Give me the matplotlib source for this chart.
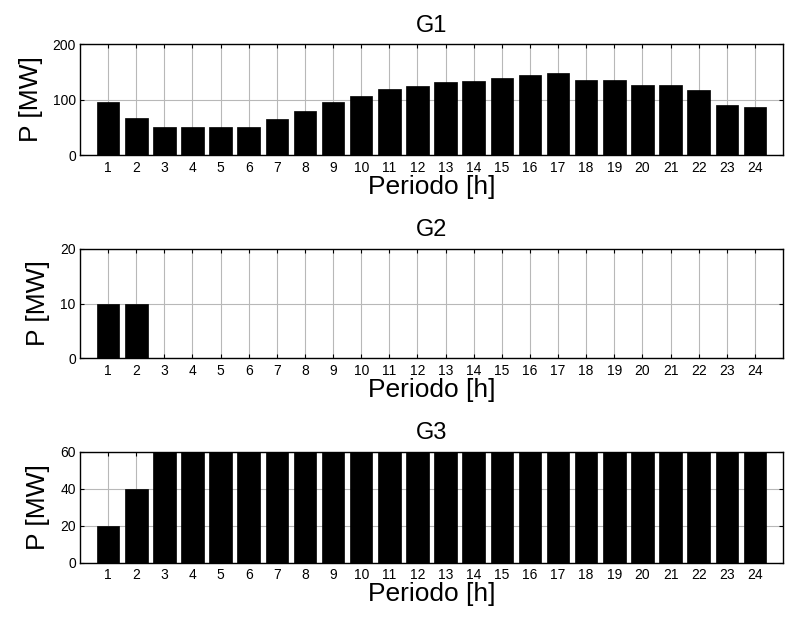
import matplotlib
matplotlib.use("Agg")
import matplotlib.pyplot as plt
import numpy as np

plt.rcParams['font.family'] = ['Liberation Sans', 'DejaVu Sans']

periods = list(range(1, 25))
g1 = [95, 66, 51, 51, 51, 51, 64, 80, 95, 106, 119, 125, 132, 134, 138, 144,
      147, 136, 136, 127, 127, 117, 91, 87]
g2 = [10, 10] + [0] * 22
g3 = [20, 40] + [60] * 22

series = [("G1", g1, 200, [0, 100, 200]),
          ("G2", g2, 20, [0, 10, 20]),
          ("G3", g3, 60, [0, 20, 40, 60])]

fig = plt.figure(figsize=(7.93, 6.21), dpi=100)
# axes boxes in figure fraction [left, bottom, width, height]
boxes = [[0.1009, 0.7504, 0.8865, 0.1787],
         [0.1009, 0.4230, 0.8865, 0.1765],
         [0.1009, 0.0939, 0.8865, 0.1787]]

for (name, vals, ymax, yt), box in zip(series, boxes):
    ax = fig.add_axes(box)
    ax.set_axisbelow(True)
    ax.grid(True, color='#b8b8b8', linewidth=0.8)
    ax.bar(periods, vals, width=0.8, color='black', edgecolor='black', linewidth=0.5)
    ax.set_xlim(0, 25)
    ax.set_ylim(0, ymax)
    ax.set_xticks(periods)
    ax.set_yticks(yt)
    ax.tick_params(direction='in', top=True, right=True, length=3, labelsize=10)
    ax.tick_params(axis='x', pad=4)
    ax.tick_params(axis='y', pad=3)
    for s in ax.spines.values():
        s.set_linewidth(1.0)
    ax.set_title(name, fontsize=17, pad=9)
    ax.set_xlabel("Periodo [h]", fontsize=19, labelpad=0)
    ax.set_ylabel("P [MW]", fontsize=19, labelpad=7)

fig.savefig("out.png", dpi=100)
